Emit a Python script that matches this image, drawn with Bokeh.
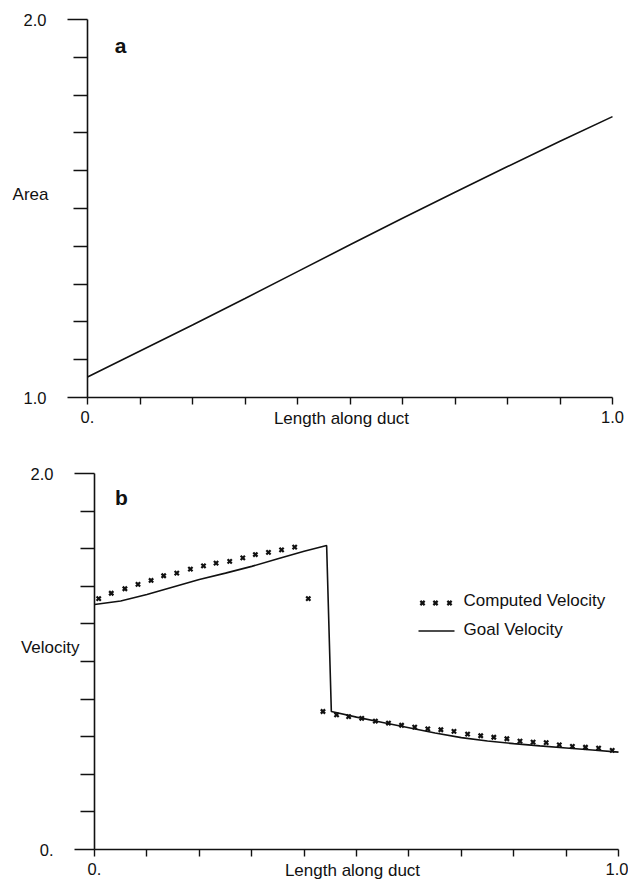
from bokeh.plotting import figure
from bokeh.models import Range1d, FixedTicker, Label
from bokeh.layouts import column
from bokeh.embed import file_html
from bokeh.resources import INLINE

# ---------------- data ----------------
area_x = [0.0, 0.1, 0.2, 0.3, 0.4, 0.5, 0.6, 0.7, 0.8, 0.9, 1.0]
area_y = [1.054, 1.123, 1.192, 1.262, 1.333, 1.404, 1.474, 1.543, 1.611, 1.678, 1.743]

goal_x = [0.0, 0.05, 0.1, 0.15, 0.2, 0.25, 0.3, 0.35, 0.4, 0.443,
          0.452, 0.5, 0.55, 0.6, 0.65, 0.7, 0.75, 0.8, 0.85, 0.9, 0.95, 1.0]
goal_v = [1.303, 1.322, 1.356, 1.396, 1.436, 1.470, 1.506, 1.546, 1.586, 1.617,
          0.734, 0.704, 0.676, 0.648, 0.620, 0.595, 0.577, 0.563, 0.551, 0.540, 0.529, 0.518]

comp_x = [0.008, 0.032, 0.058, 0.083, 0.108, 0.132, 0.157, 0.183, 0.208, 0.232,
          0.258, 0.283, 0.307, 0.332, 0.357, 0.382, 0.408, 0.436, 0.462, 0.485,
          0.510, 0.536, 0.561, 0.586, 0.611, 0.636, 0.661, 0.686, 0.712, 0.737,
          0.762, 0.787, 0.812, 0.837, 0.862, 0.887, 0.912, 0.937, 0.962, 0.988]
comp_v = [1.334, 1.363, 1.387, 1.410, 1.431, 1.456, 1.470, 1.491, 1.509, 1.523,
          1.533, 1.551, 1.569, 1.580, 1.594, 1.608, 1.334, 0.734, 0.716, 0.707,
          0.698, 0.683, 0.672, 0.661, 0.651, 0.642, 0.637, 0.628, 0.614, 0.605,
          0.597, 0.589, 0.576, 0.571, 0.568, 0.557, 0.549, 0.544, 0.539, 0.527]

x_ticks = [0.0, 1.0]
x_tick_labels = {0: "0.", 1: "1.0"}
area_ticks = [1.0, 2.0]
area_tick_labels = {1: "1.0", 2: "2.0"}
vel_ticks = [0.0, 2.0]
vel_tick_labels = {0: "0.", 2: "2.0"}

FONT = "Liberation Sans"
INK = "#111111"
W = 628


class Panel:
    """Maps pixel positions of the panel (page coords) to data coordinates."""

    def __init__(self, top, height, x0px, x1px, y0px, y1px, y0, y1):
        self.top, self.h = top, height
        self.x0px, self.x1px = x0px, x1px
        self.y0px, self.y1px, self.y0, self.y1 = y0px, y1px, y0, y1

    def dx(self, px):
        return (px - self.x0px) / (self.x1px - self.x0px)

    def dy(self, py):
        return self.y0 + (self.y0px - py) * (self.y1 - self.y0) / (self.y0px - self.y1px)

    def figure(self):
        p = figure(width=W, height=self.h,
                   x_range=Range1d(self.dx(0), self.dx(W)),
                   y_range=Range1d(self.dy(self.top + self.h), self.dy(self.top)),
                   output_backend="svg", toolbar_location=None, min_border=0)
        return p


def text_label(p, x, y, txt, align, baseline, size="17px", style="normal"):
    p.add_layout(Label(x=x, y=y, text=txt, text_font=FONT, text_font_size=size,
                       text_font_style=style, text_align=align,
                       text_baseline=baseline, text_color=INK))


def style(p, xminor, yminor, yt, yl, ybounds, y_std):
    p.grid.visible = False
    p.outline_line_color = None
    p.background_fill_color = "white"
    p.border_fill_color = "white"
    for ax in (p.xaxis[0], p.yaxis[0]):
        ax.axis_line_color = INK
        ax.axis_line_width = 1.6
        ax.major_tick_line_color = INK
        ax.minor_tick_line_color = INK
        ax.major_tick_line_width = 1.4
        ax.minor_tick_line_width = 1.4
        ax.major_tick_in = 0
        ax.minor_tick_in = 0
        ax.major_label_text_font = FONT
        ax.major_label_text_font_size = "16.5px"
        ax.major_label_text_color = INK
    xa = p.xaxis[0]
    xa.fixed_location = ybounds[0]
    xa.bounds = (0, 1)
    xa.ticker = FixedTicker(ticks=x_ticks, minor_ticks=xminor)
    xa.major_label_overrides = x_tick_labels
    xa.major_tick_out = 7
    xa.minor_tick_out = 7
    xa.major_label_standoff = 6
    ya = p.yaxis[0]
    ya.fixed_location = 0
    ya.bounds = ybounds
    ya.ticker = FixedTicker(ticks=yt, minor_ticks=yminor)
    ya.major_label_overrides = yl
    ya.major_tick_out = 20
    ya.minor_tick_out = 14
    ya.major_label_standoff = y_std


x_minor = [i / 10 for i in range(1, 10)]

# ---------------- top panel (a) ----------------
A = Panel(top=0, height=440, x0px=87, x1px=612, y0px=397, y1px=19, y0=1.0, y1=2.0)
p1 = A.figure()
style(p1, x_minor, [1 + i / 10 for i in range(1, 10)], area_ticks, area_tick_labels, (1, 2), 21)
p1.line(area_x, area_y, line_color=INK, line_width=1.6)
text_label(p1, A.dx(120), A.dy(45), "a", "center", "alphabetic", "21px", "bold")
text_label(p1, A.dx(48), A.dy(194), "Area", "right", "middle")
text_label(p1, A.dx(341), A.dy(408), "Length along duct", "center", "top")

# ---------------- bottom panel (b) ----------------
B = Panel(top=440, height=441, x0px=94, x1px=618, y0px=849, y1px=473, y0=0.0, y1=2.0)
p2 = B.figure()
style(p2, x_minor, [i / 5 for i in range(1, 10)], vel_ticks, vel_tick_labels, (0, 2), 21)
p2.line(goal_x, goal_v, line_color=INK, line_width=1.6)
p2.scatter(comp_x, comp_v, marker="x", size=6, line_color=INK, line_width=2.2)
text_label(p2, B.dx(121), B.dy(497), "b", "center", "alphabetic", "21px", "bold")
text_label(p2, B.dx(79), B.dy(647), "Velocity", "right", "middle")
text_label(p2, B.dx(352), B.dy(860), "Length along duct", "center", "top")

# legend (hand-built to show the three-cross key of the original)
p2.scatter([B.dx(422), B.dx(435), B.dx(449)], [B.dy(602.5)] * 3, marker="x", size=6,
           line_color=INK, line_width=2.2)
p2.line([B.dx(418), B.dx(454)], [B.dy(630.5)] * 2, line_color=INK, line_width=1.6)
text_label(p2, B.dx(463), B.dy(600), "Computed Velocity", "left", "middle")
text_label(p2, B.dx(463), B.dy(629), "Goal Velocity", "left", "middle")

layout = column(p1, p2, spacing=0)
open("out.html", "w").write(file_html(layout, INLINE))
